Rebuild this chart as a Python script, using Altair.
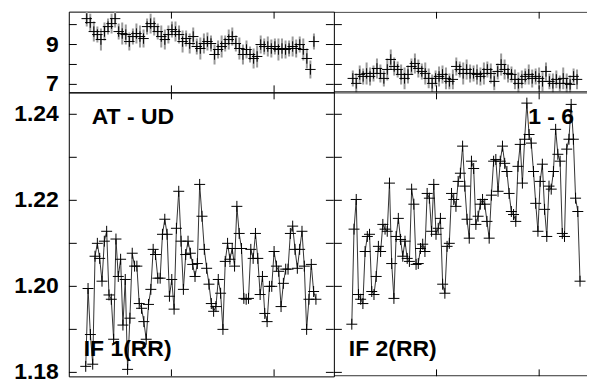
import altair as alt
import pandas as pd

# ---- data ----
tl_vals = [10.3, 10.1, 9.65, 9.5, 9.25, 9.65, 9.9, 10.05, 10.3, 9.65, 9.55, 9.5, 9.15, 9.4, 9.55,
           9.4, 9.3, 9.9, 10.05, 9.9, 9.65, 9.4, 9.25, 9.5, 9.75, 9.65, 9.5, 9.15, 9.3, 9.05,
           9.4, 8.9, 8.8, 9.05, 9.15, 9.05, 8.5, 8.75, 8.9, 9.05, 9.25, 9.4, 9.05, 8.8, 8.5,
           8.75, 8.5, 8.3, 8.4, 9.0, 8.9, 8.9, 8.8, 8.9, 8.75, 8.8, 8.75, 8.8, 8.9, 8.8,
           9.0, 8.75, 8.3, 7.75, 9.15]
tl_err = [0.40, 0.45, 0.50, 0.40, 0.55, 0.45, 0.40, 0.50, 0.45, 0.40, 0.55, 0.50, 0.45, 0.40, 0.50,
          0.55, 0.45, 0.40, 0.50, 0.45, 0.40, 0.55, 0.50, 0.45, 0.40, 0.50, 0.45, 0.55, 0.40, 0.50,
          0.45, 0.40, 0.55, 0.50, 0.45, 0.40, 0.50, 0.45, 0.55, 0.40, 0.50, 0.45, 0.40, 0.55, 0.50,
          0.45, 0.40, 0.50, 0.55, 0.45, 0.40, 0.50, 0.45, 0.40, 0.55, 0.50, 0.45, 0.40, 0.50, 0.45,
          0.40, 0.55, 0.50, 0.45, 0.40]
tr_vals = [7.3, 7.05, 7.5, 7.4, 7.55, 7.4, 7.55, 7.8, 7.55, 7.3, 7.75, 8.25, 7.9, 7.75, 7.5,
           7.3, 7.5, 7.9, 8.05, 7.8, 7.65, 7.55, 7.3, 7.05, 7.3, 7.4, 7.5, 7.3, 7.15, 7.25,
           7.9, 7.75, 7.55, 7.75, 7.55, 7.55, 7.5, 7.4, 7.55, 7.75, 7.55, 7.15, 7.65, 8.0, 7.75,
           7.55, 7.5, 7.25, 7.05, 7.25, 7.4, 7.5, 7.3, 7.4, 7.3, 7.15, 7.65, 7.15, 7.05, 7.25,
           7.05, 7.3, 7.05, 7.0, 7.4, 7.25]
tr_err = [0.40, 0.50, 0.45, 0.40, 0.55, 0.45, 0.40, 0.50, 0.45, 0.40, 0.55, 0.50, 0.45, 0.40, 0.50,
          0.55, 0.45, 0.40, 0.50, 0.45, 0.40, 0.55, 0.50, 0.45, 0.40, 0.50, 0.45, 0.55, 0.40, 0.50,
          0.45, 0.40, 0.55, 0.50, 0.45, 0.40, 0.50, 0.45, 0.55, 0.40, 0.50, 0.45, 0.40, 0.55, 0.50,
          0.45, 0.40, 0.50, 0.55, 0.45, 0.40, 0.50, 0.45, 0.40, 0.55, 0.50, 0.45, 0.40, 0.50, 0.45,
          0.40, 0.55, 0.50, 0.45, 0.40, 0.50]
bl_vals = [1.1814, 1.1995, 1.1888, 1.1819, 1.2070, 1.2100, 1.2065, 1.2012, 1.2105, 1.2128,
           1.1980, 1.1970, 1.1877, 1.2110, 1.2023, 1.2063, 1.1910, 1.2016, 1.1807, 1.1926,
           1.2077, 1.2047, 1.2047, 1.1960, 1.1949, 1.1918, 1.1877, 1.1958, 1.1993, 1.2086,
           1.2074, 1.2019, 1.2019, 1.2121, 1.2156, 1.2121, 1.1977, 1.2016, 1.1947, 1.2135,
           1.2221, 1.2105, 1.1993, 1.2074, 1.2105, 1.2077, 1.2051, 1.2023, 1.2053, 1.2237,
           1.2163, 1.2086, 1.2042, 1.2005, 1.1960, 1.1942, 1.1953, 1.2016, 1.1984, 1.1900,
           1.2058, 1.2100, 1.2063, 1.2088, 1.2047, 1.2186, 1.2123, 1.2088, 1.1972, 1.1970,
           1.1972, 1.2086, 1.2065, 1.2123, 1.2065, 1.1981, 1.2023, 1.1937, 1.1918, 1.2000,
           1.2000, 1.2081, 1.2047, 1.2035, 1.1953, 1.2007, 1.2040, 1.2040, 1.2123, 1.2140,
           1.2086, 1.2042, 1.2086, 1.2128, 1.2047, 1.1900, 1.1970, 1.2051, 1.1988, 1.1970]
br_vals = [1.1912, 1.2133, 1.2202, 1.1981, 1.1970, 1.1960, 1.2081, 1.2116, 1.2121, 1.1988,
           1.1981, 1.2023, 1.2093, 1.2081, 1.2144, 1.2133, 1.2128, 1.2240, 1.2053, 1.1972,
           1.2116, 1.2158, 1.2109, 1.2070, 1.2105, 1.2065, 1.2058, 1.2226, 1.2191, 1.2051,
           1.2053, 1.2088, 1.2098, 1.2081, 1.2216, 1.2205, 1.2128, 1.2237, 1.2121, 1.2135,
           1.2158, 1.2005, 1.1984, 1.2093, 1.2100, 1.2216, 1.2202, 1.2186, 1.2244, 1.2263,
           1.2326, 1.2233, 1.2156, 1.2112, 1.2291, 1.2274, 1.2144, 1.2163, 1.2191, 1.2202,
           1.2191, 1.2151, 1.2112, 1.2212, 1.2291, 1.2295, 1.2221, 1.2291, 1.2326, 1.2286,
           1.2267, 1.2216, 1.2174, 1.2167, 1.2151, 1.2279, 1.2330, 1.2240, 1.2342, 1.2426,
           1.2353, 1.2333, 1.2267, 1.2193, 1.2128, 1.2244, 1.2284, 1.2179, 1.2116, 1.2233,
           1.2226, 1.2267, 1.2365, 1.2307, 1.2291, 1.2123, 1.2116, 1.2319, 1.2342, 1.2423,
           1.2342, 1.2205, 1.2174, 1.2012]

top_ticks = [7, 8, 9, 10]
top_labels = ["7", "9"]
bot_ticks = [1.18, 1.19, 1.20, 1.21, 1.22, 1.23, 1.24]
bot_labels = ["1.18", "1.20", "1.22", "1.24"]
top_domain = [6.6, 10.65]
bot_domain = [1.17907, 1.2451]

# ---- style / layout ----
W = 266          # nominal panel width (x scale)
WR = 254         # visible width of right panels (rest is off the page)
HT = 81
HB = 285
LABW = 53        # width of the y-label strip
FONT = "Liberation Sans"
FS = 23
PLUS = "M-1,0H1M0,-1V1"
XTICK_PX = [103, 206]
TICK = 8
NOVIEW = alt.ViewBackground(strokeWidth=0, strokeOpacity=0)


def xdomain(n, first, last, shown):
    step = (last - first) / (n - 1)
    lo = -first / step
    return [lo, lo + shown / step]


def label_strip(labels, ydom, height):
    df = pd.DataFrame({"t": [float(s) for s in labels], "s": labels})
    return alt.Chart(df).mark_text(
        font=FONT, fontSize=FS, fontWeight="bold", color="black", align="right",
        baseline="middle").encode(
        y=alt.Y("t:Q", scale=alt.Scale(domain=ydom, nice=False, zero=False), axis=None),
        x=alt.value(LABW - 10), text="s:N").properties(width=LABW, height=height, view=NOVIEW)


def panel(vals, err, first, last, ydom, yticks, height, left, texts, line):
    n = len(vals)
    width = W if left else WR
    df = pd.DataFrame({"i": list(range(n)), "v": vals})
    if err is not None:
        df["lo"] = [a - b for a, b in zip(vals, err)]
        df["hi"] = [a + b for a, b in zip(vals, err)]
    xs = alt.Scale(domain=xdomain(n, first, last, width), nice=False, zero=False)
    ys = alt.Scale(domain=ydom, nice=False, zero=False)
    X = alt.X("i:Q", scale=xs, axis=None)
    Y = alt.Y("v:Q", scale=ys, axis=None)
    layers = []
    if err is not None:
        layers.append(alt.Chart(df).mark_rule(color="#9a9a9a", strokeWidth=2, clip=True).encode(
            x=X, y=alt.Y("lo:Q", scale=ys, axis=None), y2="hi:Q"))
    if line:
        layers.append(alt.Chart(df).mark_line(color="#333333", strokeWidth=1, clip=True).encode(
            x=X, y=Y))
    layers.append(alt.Chart(df).mark_point(shape=PLUS, size=121 if line else 110, filled=False,
                                           stroke="black", strokeWidth=1, opacity=1, clip=True).encode(
        x=X, y=Y))
    tdf = pd.DataFrame({"t": yticks})
    TY = alt.Y("t:Q", scale=ys, axis=None)
    layers.append(alt.Chart(tdf).mark_rule(color="black", strokeWidth=1, clip=True).encode(
        y=TY, x=alt.value(0), x2=alt.value(TICK)))
    one = pd.DataFrame({"a": [0]})
    if left:
        layers.append(alt.Chart(tdf).mark_rule(color="black", strokeWidth=1, clip=True).encode(
            y=TY, x=alt.value(W - TICK), x2=alt.value(W)))
    else:
        # frame of the right panels (its right edge lies off the page)
        layers.append(alt.Chart(one).mark_rule(color="black", strokeWidth=1, clip=True).encode(
            x=alt.value(0), x2=alt.value(width), y=alt.value(0.5)))
        layers.append(alt.Chart(one).mark_rule(color="black", strokeWidth=1, clip=True).encode(
            x=alt.value(0), x2=alt.value(width), y=alt.value(height - 0.5)))
    for p in XTICK_PX:
        layers.append(alt.Chart(one).mark_rule(color="black", strokeWidth=1, clip=True).encode(
            x=alt.value(p), y=alt.value(0), y2=alt.value(7)))
        layers.append(alt.Chart(one).mark_rule(color="black", strokeWidth=1, clip=True).encode(
            x=alt.value(p), y=alt.value(height - 7), y2=alt.value(height)))
    for txt, tx, ty in texts:
        layers.append(alt.Chart(one).mark_text(text=txt, font=FONT, fontSize=FS, fontWeight="bold",
                                               color="black", align="left", baseline="alphabetic",
                                               clip=True).encode(
            x=alt.value(tx), y=alt.value(ty)))
    view = alt.ViewBackground(stroke="black", strokeWidth=1) if left else NOVIEW
    return alt.layer(*layers).properties(width=width, height=height, view=view)


top_lab = label_strip(top_labels, top_domain, HT)
bot_lab = label_strip(bot_labels, bot_domain, HB)

tl = panel(tl_vals, tl_err, 18, 246, top_domain, top_ticks, HT, True, [], False)
tr = panel(tr_vals, tr_err, 19, 244, top_domain, top_ticks, HT, False, [], False)
bl = panel(bl_vals, None, 17, 248, bot_domain, bot_ticks, HB, True,
           [("AT - UD", 23, 32), ("IF 1(RR)", 15, 265)], True)
br = panel(br_vals, None, 18, 247, bot_domain, bot_ticks, HB, False,
           [("1 - 6", 195, 32), ("IF 2(RR)", 15, 265)], True)

chart = alt.concat(
    top_lab, tl, tr, bot_lab, bl, br,
    columns=3,
    spacing=0,
    bounds="flush",
).properties(
    padding={"left": 6, "top": 2, "right": 0, "bottom": 0},
    background="white",
)

chart.save("out.html", embed_options={"renderer": "svg", "actions": False})
